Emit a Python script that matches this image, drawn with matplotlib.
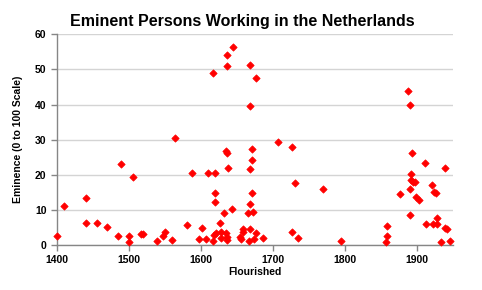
import matplotlib
matplotlib.use("Agg")
import matplotlib.pyplot as plt

# year flourished, eminence score
years = [1400, 1410, 1440, 1440, 1455, 1470, 1485, 1489, 1500, 1500,
         1506, 1516, 1520, 1539, 1547, 1550, 1560, 1564, 1580, 1588,
         1597, 1601, 1607, 1610, 1617, 1616, 1618, 1619, 1619, 1620,
         1621, 1626, 1628, 1628, 1632, 1635, 1635, 1636, 1636, 1636,
         1636, 1636, 1638, 1643, 1645, 1654, 1656, 1658, 1659, 1665,
         1666, 1668, 1668, 1668, 1668, 1668, 1671, 1671, 1671, 1672,
         1674, 1676, 1677, 1686, 1707, 1726, 1726, 1731, 1735, 1769,
         1794, 1857, 1858, 1859, 1876, 1887, 1890, 1890, 1890, 1891,
         1891, 1893, 1895, 1897, 1899, 1903, 1911, 1912, 1921, 1924,
         1927, 1922, 1928, 1928, 1933, 1939, 1939, 1942, 1946]
eminence = [2.5, 11.2, 13.3, 6.4, 6.2, 5.2, 2.7, 23.2, 2.5, 0.9,
            19.3, 3.1, 3.1, 1.1, 2.5, 3.6, 1.5, 30.4, 5.8, 20.6,
            1.6, 4.9, 1.8, 20.4, 49.0, 1.1, 2.8, 14.9, 12.2, 20.6,
            3.5, 6.4, 3.8, 1.9, 9.2, 3.3, 26.9, 26.3, 54.0, 50.9,
            2.2, 1.4, 21.8, 10.3, 56.5, 2.2, 1.8, 4.7, 3.8, 9.0,
            1.1, 11.7, 4.7, 21.6, 39.5, 51.4, 27.3, 24.2, 14.8, 9.3,
            1.6, 47.7, 3.3, 1.9, 29.3, 27.8, 3.8, 17.7, 2.0, 16.1,
            1.1, 0.9, 5.3, 2.7, 14.6, 43.8, 39.8, 16.0, 8.5, 20.2,
            18.6, 26.2, 18.0, 17.9, 13.8, 12.9, 23.5, 6.0, 17.2, 15.1,
            14.7, 6.1, 6.1, 7.8, 0.9, 22.0, 4.9, 4.6, 1.2]

x_ticks = [1400, 1500, 1600, 1700, 1800, 1900]
y_ticks = [0, 10, 20, 30, 40, 50, 60]

plt.rcParams['font.family'] = ['Liberation Sans', 'DejaVu Sans']

fig = plt.figure(figsize=(4.82, 2.90), dpi=100)
ax = fig.add_axes([0.1183, 0.155, 0.8215, 0.7267])

ax.scatter(years, eminence, marker='D', s=14, color='#ff0000', edgecolors='#ff0000',
           linewidths=0.5, zorder=3, clip_on=False)

ax.set_xlim(1400, 1950)
ax.set_ylim(0, 60)
ax.set_xticks(x_ticks)
ax.set_yticks(y_ticks)
ax.yaxis.grid(True, color='#d4d4d4', linewidth=1)
ax.set_axisbelow(True)

for s in ['top', 'right']:
    ax.spines[s].set_visible(False)
for s in ['left', 'bottom']:
    ax.spines[s].set_color('#868686')
    ax.spines[s].set_linewidth(1)
ax.tick_params(axis='both', colors='#868686', length=4, width=1, direction='out')
ax.tick_params(axis='both', labelcolor='black', labelsize=7.5)
for lab in ax.get_xticklabels() + ax.get_yticklabels():
    lab.set_fontweight('bold')

ax.set_xlabel('Flourished', fontsize=7.5, fontweight='bold', labelpad=1)
ax.set_ylabel('Eminence (0 to 100 Scale)', fontsize=7.5, fontweight='bold', labelpad=9)
fig.text(0.502, 0.925, 'Eminent Persons Working in the Netherlands', ha='center', va='center',
         fontsize=11.5, fontweight='bold')

fig.savefig('out.png', dpi=100)
